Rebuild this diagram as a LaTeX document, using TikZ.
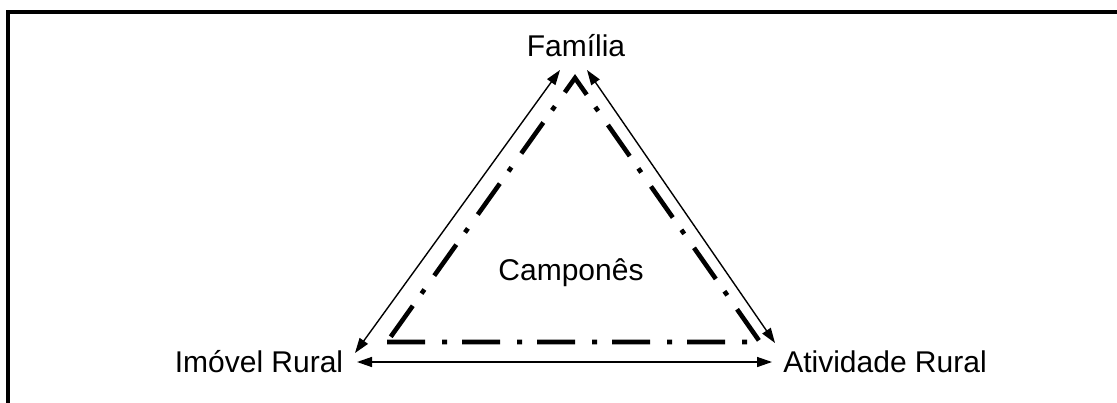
\documentclass[tikz,border=0pt]{standalone}
\usepackage{fontspec}
\setmainfont{Liberation Sans}
\usepackage{tikz}
\usetikzlibrary{positioning,arrows.meta}

\begin{document}
\begin{tikzpicture}[x=0.5pt, y=-0.5pt, >={Triangle[length=7.5pt,width=5pt]},
    label/.style={anchor=base, inner sep=0pt, font=\fontsize{15}{18}\selectfont},
    link/.style={<->, line width=0.7pt},
    dashdot/.style={line width=2.3pt, dash pattern=on 19pt off 8.5pt on 2.5pt off 7.5pt}]
            \useasboundingbox (0,0) rectangle (1117,402);
            \clip (0,0) rectangle (1117,402);
            % frame
            \draw[line width=2.2pt] (1140,12) -- (8,12) -- (8,430);

            \node[label] (familia) at (576,56) {Família};
            \node[label] (campones) at (571,280) {Camponês};
            \node[label] (imovel) at (259,372) {Imóvel Rural};
            \node[label] (atividade) at (885,372) {Atividade Rural};

            % triangle corners
            \coordinate (top) at (575,78);
            \coordinate (left) at (387,342);
            \coordinate (right) at (760,342);
            \draw[dashdot] (left) -- (right) -- (top) -- cycle;

            % arrow ends
            \coordinate (lt) at (560,70);
            \coordinate (lb) at (355,353);
            \coordinate (rt) at (587,70);
            \coordinate (rb) at (775,343);
            \coordinate (bl) at (357,362);
            \coordinate (br) at (772,362);
            \draw[link] (lt) -- (lb);
            \draw[link] (rt) -- (rb);
            \draw[link] (bl) -- (br);
        \end{tikzpicture}
\end{document}
